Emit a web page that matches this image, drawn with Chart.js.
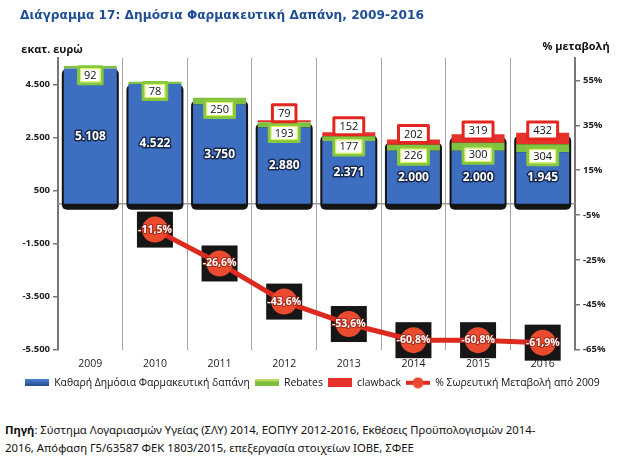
<!DOCTYPE html>
<html>
<head>
<meta charset="utf-8">
<script src="https://cdn.jsdelivr.net/npm/chart.js@4.4.1/dist/chart.umd.min.js"></script>
<style>
body { margin: 0; background: #fff; }
#wrap { position: relative; width: 630px; height: 461px; overflow: hidden; }
#title { position: absolute; left: 20px; top: 8px; font: bold 12.2px 'DejaVu Sans'; color: #1f4e96; white-space: nowrap; }
#chartBox { position: absolute; left: 0; top: 0; width: 630px; height: 400px; }
#source { position: absolute; left: 5px; top: 421px; font: 11.3px 'Noto Sans'; color: #111; line-height: 18px; white-space: nowrap; }
</style>
</head>
<body>
<div id="wrap">
  <div id="chartBox"><canvas id="c"></canvas></div>
  <div id="title">Διάγραμμα 17: Δημόσια Φαρμακευτική Δαπάνη, 2009-2016</div>
  <div id="source"><b>Πηγή</b>: Σύστημα Λογαριασμών Υγείας (ΣΛΥ) 2014, ΕΟΠΥΥ 2012-2016, Εκθέσεις Προϋπολογισμών 2014-<br>2016, Απόφαση Γ5/63587 ΦΕΚ 1803/2015, επεξεργασία στοιχείων ΙΟΒΕ, ΣΦΕΕ</div>
</div>
<script>
var years = ['2009', '2010', '2011', '2012', '2013', '2014', '2015', '2016'];
var netSpend = [5108, 4522, 3750, 2880, 2371, 2000, 2000, 1945];
var rebates = [92, 78, 250, 193, 177, 226, 300, 304];
var clawback = [0, 0, 0, 79, 152, 202, 319, 432];
var cumChange = [null, -11.5, -26.6, -43.6, -53.6, -60.8, -60.8, -61.9];
var leftTicks = [-5500, -3500, -1500, 500, 2500, 4500];
var rightTicks = [-65, -45, -25, -5, 15, 35, 55];

function fmt(v) {
	var s = Math.abs(v).toString().replace(/\B(?=(\d{3})+(?!\d))/g, '.');
	return (v < 0 ? '-' : '') + s;
}
function pct(v) {
	return v.toFixed(1).replace('.', ',') + '%';
}

// small canvases used as legend swatches
function swatch(w, h, draw) {
	var c = document.createElement('canvas');
	c.width = w; c.height = h;
	draw(c.getContext('2d'), w, h);
	return c;
}
var swBlue = swatch(24, 7, function(g, w, h) {
	var gr = g.createLinearGradient(0, 0, 0, h);
	gr.addColorStop(0, '#4f7fd0'); gr.addColorStop(1, '#1f4688');
	g.fillStyle = gr; g.fillRect(0, 0, w, h);
});
var swGreen = swatch(24, 7, function(g, w, h) {
	g.fillStyle = '#7dbd3f'; g.fillRect(0, 0, w, h);
	g.fillStyle = '#b8dc5c'; g.fillRect(0, 0, w, 2);
});
var swRed = swatch(24, 9, function(g, w, h) {
	g.fillStyle = '#e8302b'; g.fillRect(0, 0, w, h);
});
var swLine = swatch(24, 12, function(g, w, h) {
	g.fillStyle = '#e02a20'; g.fillRect(0, 4, w, 4);
	g.fillStyle = '#ea4b2e'; g.beginPath(); g.arc(w / 2, h / 2, 5.5, 0, Math.PI * 2); g.fill();
});

function roundRect(ctx, x, y, w, h, r) {
	ctx.beginPath();
	ctx.moveTo(x + r, y);
	ctx.arcTo(x + w, y, x + w, y + h, r);
	ctx.arcTo(x + w, y + h, x, y + h, r);
	ctx.arcTo(x, y + h, x, y, r);
	ctx.arcTo(x, y, x + w, y, r);
	ctx.closePath();
}

var backdrop = {
	id: 'backdrop',
	beforeDatasetsDraw: function(chart) {
		var ctx = chart.ctx, area = chart.chartArea;
		var y0 = chart.scales.y.getPixelForValue(0);
		ctx.save();
		ctx.strokeStyle = '#9a9a9a';
		ctx.lineWidth = 1.5;
		ctx.beginPath(); ctx.moveTo(area.left, y0); ctx.lineTo(area.right, y0); ctx.stroke();
		var m0 = chart.getDatasetMeta(0), m1 = chart.getDatasetMeta(1), m2 = chart.getDatasetMeta(2);
		ctx.fillStyle = '#141414';
		for (var i = 0; i < years.length; i++) {
			var b = m0.data[i];
			var top = clawback[i] ? m2.data[i].y : m1.data[i].y;
			roundRect(ctx, b.x - b.width / 2 - 2, top + 3, b.width + 4, y0 + 6 - top - 3, 5);
			ctx.fill();
		}
		ctx.restore();
	},
	beforeDatasetDraw: function(chart, args) {
		if (args.index !== 3) return;
		var ctx = chart.ctx, m3 = chart.getDatasetMeta(3);
		ctx.save();
		ctx.fillStyle = '#161616';
		for (var i = 0; i < years.length; i++) {
			if (cumChange[i] === null) continue;
			var p = m3.data[i];
			ctx.fillRect(p.x - 18, p.y - 18, 36, 36);
		}
		ctx.restore();
	}
};

function labelBox(ctx, text, x, y, color, inner) {
	ctx.font = '11px "Open Sans"';
	var w = ctx.measureText(text).width + 11, h = 17;
	ctx.fillStyle = '#fff';
	ctx.fillRect(x - w / 2, y - h / 2, w, h);
	ctx.lineWidth = 3;
	ctx.strokeStyle = color;
	ctx.strokeRect(x - w / 2, y - h / 2, w, h);
	if (inner) {
		ctx.lineWidth = 1;
		ctx.strokeStyle = inner;
		ctx.strokeRect(x - w / 2 + 2, y - h / 2 + 2, w - 4, h - 4);
	}
	ctx.fillStyle = '#111';
	ctx.fillText(text, x, y + 0.5);
}

var valueLabels = {
	id: 'valueLabels',
	afterDatasetsDraw: function(chart) {
		var ctx = chart.ctx;
		var m0 = chart.getDatasetMeta(0), m1 = chart.getDatasetMeta(1), m2 = chart.getDatasetMeta(2), m3 = chart.getDatasetMeta(3);
		ctx.save();
		ctx.textAlign = 'center';
		ctx.textBaseline = 'middle';
		for (var i = 0; i < years.length; i++) {
			var b = m0.data[i];
			ctx.font = 'bold 12px "Open Sans"';
			ctx.lineWidth = 3;
			ctx.strokeStyle = 'rgba(15,30,60,0.85)';
			ctx.lineJoin = 'round';
			ctx.strokeText(fmt(netSpend[i]), b.x, (b.y + b.base) / 2);
			ctx.fillStyle = '#fff';
			ctx.fillText(fmt(netSpend[i]), b.x, (b.y + b.base) / 2);

			var r = m1.data[i];
			labelBox(ctx, String(rebates[i]), r.x, (r.y + r.base) / 2 + 8, '#86c93f', '#dcef5a');

			if (clawback[i]) {
				var c = m2.data[i];
				labelBox(ctx, String(clawback[i]), c.x, (c.y + c.base) / 2 - 8, '#e3261f');
			}

			if (cumChange[i] !== null) {
				var p = m3.data[i];
				ctx.font = 'bold 10.5px "Open Sans"';
				ctx.lineWidth = 2;
				ctx.strokeStyle = 'rgba(120,20,10,0.6)';
				ctx.strokeText(pct(cumChange[i]), p.x, p.y);
				ctx.fillStyle = '#fff';
				ctx.fillText(pct(cumChange[i]), p.x, p.y);
			}
		}
		ctx.font = 'bold 11px "Open Sans"';
		ctx.fillStyle = '#111';
		ctx.fillText('εκατ. ευρώ', 52, 50);
		ctx.fillText('% μεταβολή', 576, 47);
		ctx.restore();
	}
};

new Chart(document.getElementById('c'), {
	type: 'bar',
	data: {
		labels: years,
		datasets: [
			{ label: 'Καθαρή Δημόσια Φαρμακευτική δαπάνη', data: netSpend, backgroundColor: '#3e6ec0', stack: 's', yAxisID: 'y', barPercentage: 0.82, categoryPercentage: 1 },
			{ label: 'Rebates', data: rebates, backgroundColor: '#80c142', stack: 's', yAxisID: 'y', barPercentage: 0.82, categoryPercentage: 1 },
			{ label: 'clawback', data: clawback, backgroundColor: '#e8302b', stack: 's', yAxisID: 'y', barPercentage: 0.82, categoryPercentage: 1 },
			{ type: 'line', label: '% Σωρευτική Μεταβολή από 2009', data: cumChange, yAxisID: 'y1',
				borderColor: '#dd2a1f', borderWidth: 5, tension: 0, clip: false,
				pointRadius: 13, pointBackgroundColor: '#ea4b2e', pointBorderWidth: 0, pointHoverRadius: 13 }
		]
	},
	options: {
		responsive: true,
		maintainAspectRatio: false,
		animation: false,
		layout: { padding: { top: 58, left: 20, right: 0, bottom: 2 } },
		plugins: {
			tooltip: { enabled: false },
			legend: {
				position: 'bottom',
				align: 'start',
				labels: {
					usePointStyle: true,
					pointStyleWidth: 24,
					boxHeight: 7,
					padding: 5,
					color: '#111',
					font: { family: 'Open Sans', size: 10.4 },
					generateLabels: function(chart) {
						var sw = [swBlue, swGreen, swRed, swLine];
						return chart.data.datasets.map(function(ds, i) {
							return { text: ds.label, pointStyle: sw[i], fillStyle: '#000', lineWidth: 0, strokeStyle: 'transparent', hidden: false, datasetIndex: i, fontColor: '#111' };
						});
					}
				}
			}
		},
		scales: {
			x: {
				stacked: true,
				grid: { offset: true, color: '#a5a5a5', lineWidth: 1, drawTicks: false },
				border: { display: false },
				ticks: { color: '#222', font: { family: 'Open Sans', size: 10.5 }, padding: 8 },
				afterFit: function(s) { s.height = 23; }
			},
			y: {
				stacked: true,
				position: 'left',
				min: -5500, max: 5500,
				afterBuildTicks: function(s) { s.ticks = leftTicks.map(function(v) { return { value: v }; }); },
				ticks: { callback: function(v) { return fmt(v); }, color: '#222', font: { family: 'Open Sans', size: 9.5, weight: 'bold' }, padding: 3 },
				grid: { drawOnChartArea: false, color: '#777', tickLength: 5, lineWidth: 1.5 },
				border: { color: '#777', width: 2 },
				afterFit: function(s) { s.width = 38; }
			},
			y1: {
				position: 'right',
				min: -65, max: 65,
				afterBuildTicks: function(s) { s.ticks = rightTicks.map(function(v) { return { value: v }; }); },
				ticks: { callback: function(v) { return v + '%'; }, color: '#222', font: { family: 'Open Sans', size: 9.5, weight: 'bold' }, padding: 3 },
				grid: { drawOnChartArea: false, color: '#777', tickLength: 5, lineWidth: 1.5 },
				border: { color: '#777', width: 2 },
				afterFit: function(s) { s.width = 55; }
			}
		}
	},
	plugins: [backdrop, valueLabels]
});
</script>
</body>
</html>
